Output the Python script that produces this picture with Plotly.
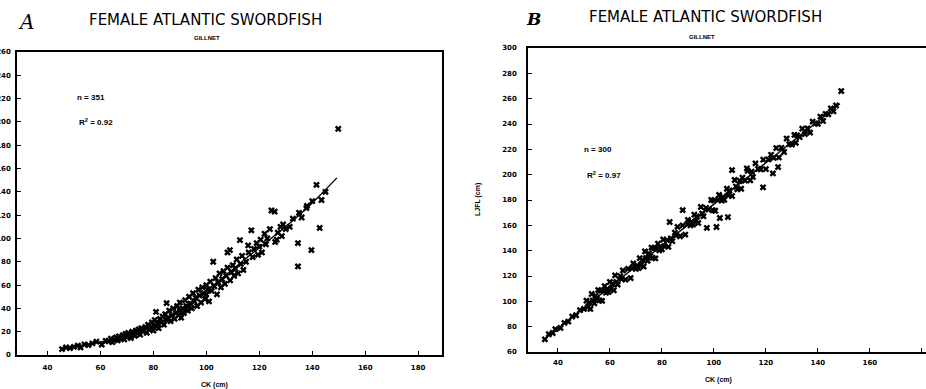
import plotly.graph_objects as go

W, H = 926, 389

# ---------------- Panel A: weight vs CK ----------------
ck_a = [45.5, 47, 48.5, 50, 51.5, 52.5, 54, 55.5, 57, 58.5, 60.5, 62,
        63, 64, 64.5, 65.5, 66, 66.5, 67, 68, 68.5, 69, 69.5, 70, 70.5, 71, 71.5, 72, 72.5, 73,
        73.5, 74, 74.5, 75, 75.5, 76, 77,
        77.5, 78, 78.5, 79, 79.5, 80, 80.5, 81, 81, 81.5, 82, 82.5, 83, 83.5, 84, 84.5, 85, 85,
        85.5, 86, 86.5, 87, 87.5, 88, 88.5, 89, 89.5, 90, 90, 90.5,
        91, 91.5, 92, 92.5, 93, 93.5, 94, 94.5, 95, 95.5, 96, 96.5, 97, 97.5, 98, 98.5, 99, 99.5,
        100, 100, 100.5, 101, 101.5, 102, 102.6,
        103, 103.5, 104, 104.5, 105, 105.5, 106, 106.5, 107, 107.5, 108, 108, 108.9, 109, 109.5,
        110, 110.5, 111, 111.5, 112, 112.7, 113, 113.5, 114, 115,
        115.8, 116, 117, 117.5, 118, 119, 119.5, 120, 120.5, 121, 122, 122.5, 123, 124, 124.6,
        125.8, 126, 126.6, 127, 128, 128.5, 129, 130, 131.5, 132.7,
        134.6, 134.6, 135, 136, 137.8, 138, 139.7, 140, 141.6, 142.8, 143.5, 145, 149.8]
wt_a = [5, 6.5, 6, 7, 8, 6.5, 9, 8.5, 10, 11.5, 9, 12,
        12, 14, 11, 13, 15, 12.5, 16, 14, 17, 13.5, 18, 15.5, 19, 17, 14.5, 20, 18, 16.5,
        21, 19, 22, 17.5, 23, 20.5, 24,
        19, 26, 22, 24, 28, 21, 30, 37, 25, 27, 23, 31, 28, 33, 26, 35, 44.5, 30,
        32, 38, 29, 34, 40, 31, 36, 42, 34, 38, 45, 32,
        40, 36, 47, 42, 38, 50, 44, 40, 53, 46, 49, 42, 56, 51, 45, 58, 53, 48,
        60, 52, 56, 46, 63, 55, 80,
        59, 66, 52, 62, 70, 58, 65, 72, 61, 68, 88, 75, 90, 64, 71,
        77, 68, 74, 82, 70, 98.6, 78, 85, 73, 80,
        94, 88, 107, 84, 91, 96, 86, 93, 99, 88, 104, 95, 100, 108, 124,
        123, 97, 99, 105, 110, 102, 112, 108, 110, 117,
        96, 76, 122, 118, 126, 128, 90, 132, 146, 109, 133, 140, 194]
fit_ck_a = [46, 55, 65, 75, 85, 95, 105, 115, 125, 135, 142, 149.3]
fit_wt_a = [6, 9, 13.5, 20, 31, 47, 64, 83, 101, 120, 135, 152]

# ---------------- Panel B: LJFL vs CK ----------------
ck_b = [35, 36.5, 38, 39, 41, 42.5, 44, 45.5, 47, 48.5, 50,
        51, 51.5, 52, 52.5, 53, 53.5, 54, 54.5, 55, 55.5, 56, 56.5, 57, 57.5, 58, 58.5, 59, 59.5,
        60, 60.5, 61, 61.5, 62, 62.5, 63, 64, 64.5, 65, 66, 67, 68, 68.5, 69, 70,
        70.5, 71, 71.5, 72, 72.5, 73, 73.5, 74, 74.5, 75, 75.5, 76, 76.5, 77, 77.5, 78, 78.5, 79,
        79.5, 80, 80.5, 81, 82, 82.5, 83, 83.5, 84, 85, 85.5, 86, 87, 88, 88, 89, 90, 90,
        91, 91.5, 92, 92.5, 93, 93.5, 94, 95, 95.5, 96, 97, 97.3, 98, 99, 99.5, 100, 100.5, 101,
        101.5, 102, 102.3, 103, 103.5, 104, 105, 105.4, 105.5, 106, 107, 107, 108, 108.5, 109,
        110, 110.5,
        111, 112, 112.7, 113, 114, 114.5, 115, 116, 117, 118, 118.9, 119, 120, 121, 122, 122.7,
        123, 124, 124.7, 125, 126, 127, 128, 129, 130, 131,
        131.5, 132, 133, 134, 135, 136, 137, 138, 139, 140, 141, 142, 143, 144, 145, 146, 147, 149]
lj_b = [70, 74, 75, 78, 79, 83, 84, 88, 89, 93, 94,
        100.5, 95.4, 99.2, 94, 105.8, 100.6, 98.4, 104.3, 102.1, 108.9, 100.7, 108.5, 100.4,
        108.2, 112, 106.8, 109.6, 107.4,
        115.3, 110.1, 113.9, 108.7, 120.5, 115.4, 113.2, 119.8, 117.6, 124.4, 117.1, 125.7,
        118.4, 126.2, 130, 125.6,
        128.4, 126.3, 134.1, 128.9, 132.7, 127.5, 139.4, 134.2, 132, 137.8, 135.6, 142.4, 134.3,
        142.1, 133.9, 141.7, 145.5, 140.3,
        143.2, 141, 148.8, 143.6, 148.3, 143, 162.6, 149.7, 147.5, 154.2, 152, 158.8, 151.4, 172,
        160, 152.7, 161.3, 164.3,
        160, 162.8, 160.6, 168.4, 163.2, 167, 161.9, 174.5, 169.3, 167.2, 173.8, 158, 172.4, 180,
        171.9, 179.7, 171.5, 158.7,
        180.1, 184, 165.8, 179.6, 182.4, 180.2, 188.9, 166.5, 183.7, 187.5, 203.6, 183.1, 195.8,
        190.6, 188.4,
        195, 188.9,
        197.7, 195.3, 205, 203, 195.6, 202.4, 198.2, 208.9, 204.5, 204.2, 190, 211.8, 204.4, 212,
        215.7, 201,
        213.3, 221, 206, 213.6, 221.2, 217.9, 228.5, 224.1, 223.8, 231.4,
        225.2, 231, 229.7, 236.3, 232, 236.6, 233.2, 241.9, 240.5, 240.1, 245.8, 242.4, 248,
        247.7, 252.3, 250, 254.6, 266]
fit_ck_b = [36, 148.5]
fit_lj_b = [72, 256]

x_ticks = [40, 60, 80, 100, 120, 140, 160, 180]
y_ticks_a = [0, 20, 40, 60, 80, 100, 120, 140, 160, 180, 200, 220, 240, 260]
y_ticks_b = [60, 80, 100, 120, 140, 160, 180, 200, 220, 240, 260, 280, 300]

def px(x):
    return x / W

def py(y):
    return 1 - y / H

fig = go.Figure()
mk = dict(symbol="x", size=6, color="black", line=dict(width=0))
fig.add_trace(go.Scatter(x=ck_a, y=wt_a, mode="markers", marker=mk, xaxis="x", yaxis="y",
                         showlegend=False))
fig.add_trace(go.Scatter(x=fit_ck_a, y=fit_wt_a, mode="lines", line=dict(color="black", width=1.4),
                         line_shape="spline", xaxis="x", yaxis="y", showlegend=False))
fig.add_trace(go.Scatter(x=ck_b, y=lj_b, mode="markers", marker=mk, xaxis="x2", yaxis="y2",
                         showlegend=False))
fig.add_trace(go.Scatter(x=fit_ck_b, y=fit_lj_b, mode="lines", line=dict(color="black", width=1.4),
                         xaxis="x2", yaxis="y2", showlegend=False))

tickfont = dict(family="DejaVu Sans", size=7, color="black", weight="bold")
common = dict(showgrid=False, zeroline=False, showline=True, linecolor="black", linewidth=1.5,
              ticks="inside", ticklen=4, tickcolor="black", tickfont=tickfont, automargin=False)

fig.update_layout(
    width=W, height=H, margin=dict(l=0, r=0, t=0, b=0),
    paper_bgcolor="white", plot_bgcolor="white",
    xaxis=dict(domain=[px(17), px(442)], range=[28.5, 189], tickvals=x_ticks,
               mirror=True, anchor="y", ticklabelstandoff=5, **common),
    yaxis=dict(domain=[py(355), py(52)], range=[0, 260], tickvals=y_ticks_a,
               mirror=True, anchor="x", ticklabelstandoff=3, **common),
    xaxis2=dict(domain=[px(528), 1.0], range=[28.5, 181.6], tickvals=x_ticks,
                mirror=True, anchor="y2", ticklabelstandoff=3, **common),
    yaxis2=dict(domain=[py(352), py(48)], range=[60, 300], tickvals=y_ticks_b,
                mirror=False, anchor="x2", ticklabelstandoff=8, **common),
)

def ann(text, x, y, size, **kw):
    d = dict(text=text, x=px(x), y=py(y), xref="paper", yref="paper", showarrow=False,
             xanchor="center", yanchor="middle",
             font=dict(family=kw.pop("family", "Liberation Sans"), size=size, color="black",
                       weight=kw.pop("weight", "normal")))
    d.update(kw)
    fig.add_annotation(**d)

ann("<i>A</i>", 26, 22, 20, family="DejaVu Serif")
ann("<i>B</i>", 533, 19, 17, family="DejaVu Serif", weight="bold")
ann("FEMALE ATLANTIC SWORDFISH", 205, 20, 15, family="DejaVu Sans")
ann("FEMALE ATLANTIC SWORDFISH", 705, 17, 15, family="DejaVu Sans")
ann("GILLNET", 207, 38, 6, weight="bold")
ann("GILLNET", 702, 37, 6, weight="bold")
ann("n = 351", 75, 97, 8, xanchor="left", weight="bold")
ann("R<sup>2</sup> = 0.92", 77, 122, 8, xanchor="left", weight="bold")
ann("n = 300", 582, 149, 8, xanchor="left", weight="bold")
ann("R<sup>2</sup> = 0.97", 585, 175, 8, xanchor="left", weight="bold")
ann("CK (cm)", 214, 385, 7, weight="bold")
ann("CK (cm)", 718, 380, 7, weight="bold")
ann("LJFL (cm)", 478, 200, 7, weight="bold", textangle=-90)

fig.write_html("out.html")
